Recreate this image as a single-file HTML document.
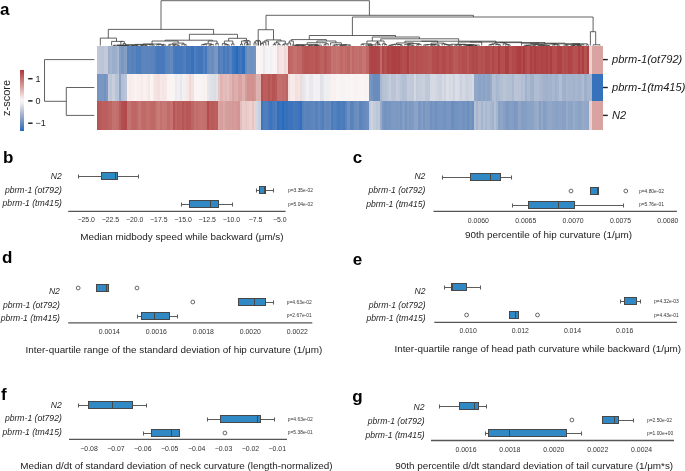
<!DOCTYPE html>
<html><head><meta charset="utf-8"><style>
html,body{margin:0;padding:0;background:#fff;width:685px;height:471px;overflow:hidden}
svg{display:block;will-change:transform}
text{font-family:"Liberation Sans",sans-serif}
</style></head><body>
<svg width="685" height="471" viewBox="0 0 685 471">
<rect width="685" height="471" fill="#fff"/>
<g shape-rendering="crispEdges"><rect x="97.20" y="45.6" width="2.46" height="28.10" fill="#c0c9d9"/><rect x="97.20" y="73.5" width="2.46" height="28.10" fill="#7393c0"/><rect x="97.20" y="101.4" width="2.46" height="28.10" fill="#b65453"/><rect x="99.36" y="45.6" width="2.46" height="28.10" fill="#bbc5d7"/><rect x="99.36" y="73.5" width="2.46" height="28.10" fill="#7997c1"/><rect x="99.36" y="101.4" width="2.46" height="28.10" fill="#b95a59"/><rect x="101.52" y="45.6" width="2.46" height="28.10" fill="#bac4d6"/><rect x="101.52" y="73.5" width="2.46" height="28.10" fill="#7997c1"/><rect x="101.52" y="101.4" width="2.46" height="28.10" fill="#bc605e"/><rect x="103.68" y="45.6" width="2.46" height="28.10" fill="#c2cada"/><rect x="103.68" y="73.5" width="2.46" height="28.10" fill="#7192c0"/><rect x="103.68" y="101.4" width="2.46" height="28.10" fill="#bb5e5d"/><rect x="105.84" y="45.6" width="2.46" height="28.10" fill="#c2cada"/><rect x="105.84" y="73.5" width="2.46" height="28.10" fill="#809bc3"/><rect x="105.84" y="101.4" width="2.46" height="28.10" fill="#bb5e5d"/><rect x="108.00" y="45.6" width="2.50" height="28.10" fill="#9dafcb"/><rect x="108.00" y="73.5" width="2.50" height="28.10" fill="#c2cada"/><rect x="108.00" y="101.4" width="2.50" height="28.10" fill="#be6664"/><rect x="110.20" y="45.6" width="2.50" height="28.10" fill="#a5b5ce"/><rect x="110.20" y="73.5" width="2.50" height="28.10" fill="#bdc6d7"/><rect x="110.20" y="101.4" width="2.50" height="28.10" fill="#be6463"/><rect x="112.40" y="45.6" width="2.50" height="28.10" fill="#9aadca"/><rect x="112.40" y="73.5" width="2.50" height="28.10" fill="#c7cedc"/><rect x="112.40" y="101.4" width="2.50" height="28.10" fill="#c3726f"/><rect x="114.60" y="45.6" width="2.50" height="28.10" fill="#9baecb"/><rect x="114.60" y="73.5" width="2.50" height="28.10" fill="#b8c3d5"/><rect x="114.60" y="101.4" width="2.50" height="28.10" fill="#c3726f"/><rect x="116.80" y="45.6" width="2.50" height="28.10" fill="#aab8d0"/><rect x="116.80" y="73.5" width="2.50" height="28.10" fill="#b8c3d5"/><rect x="116.80" y="101.4" width="2.50" height="28.10" fill="#c16c6a"/><rect x="119.00" y="45.6" width="2.30" height="28.10" fill="#859ec4"/><rect x="119.00" y="73.5" width="2.30" height="28.10" fill="#8ba3c6"/><rect x="119.00" y="101.4" width="2.30" height="28.10" fill="#ba5d5c"/><rect x="121.00" y="45.6" width="3.10" height="28.10" fill="#7997c1"/><rect x="121.00" y="73.5" width="3.10" height="28.10" fill="#b2bed3"/><rect x="121.00" y="101.4" width="3.10" height="28.10" fill="#b34d4e"/><rect x="123.80" y="45.6" width="3.10" height="28.10" fill="#859ec4"/><rect x="123.80" y="73.5" width="3.10" height="28.10" fill="#bac4d6"/><rect x="123.80" y="101.4" width="3.10" height="28.10" fill="#b24a4b"/><rect x="126.60" y="45.6" width="2.67" height="28.10" fill="#5983bd"/><rect x="126.60" y="73.5" width="2.67" height="28.10" fill="#f9efee"/><rect x="126.60" y="101.4" width="2.67" height="28.10" fill="#c3726f"/><rect x="128.97" y="45.6" width="2.67" height="28.10" fill="#5c85bd"/><rect x="128.97" y="73.5" width="2.67" height="28.10" fill="#f7ebea"/><rect x="128.97" y="101.4" width="2.67" height="28.10" fill="#c47371"/><rect x="131.33" y="45.6" width="2.67" height="28.10" fill="#5782bc"/><rect x="131.33" y="73.5" width="2.67" height="28.10" fill="#f9eeed"/><rect x="131.33" y="101.4" width="2.67" height="28.10" fill="#bf6765"/><rect x="133.70" y="45.6" width="2.67" height="28.10" fill="#5b84bd"/><rect x="133.70" y="73.5" width="2.67" height="28.10" fill="#faf3f2"/><rect x="133.70" y="101.4" width="2.67" height="28.10" fill="#be6463"/><rect x="136.07" y="45.6" width="2.67" height="28.10" fill="#4e7dbc"/><rect x="136.07" y="73.5" width="2.67" height="28.10" fill="#faf0ef"/><rect x="136.07" y="101.4" width="2.67" height="28.10" fill="#c06967"/><rect x="138.43" y="45.6" width="2.67" height="28.10" fill="#4e7dbc"/><rect x="138.43" y="73.5" width="2.67" height="28.10" fill="#f9efee"/><rect x="138.43" y="101.4" width="2.67" height="28.10" fill="#c57674"/><rect x="140.80" y="45.6" width="2.67" height="28.10" fill="#5b84bd"/><rect x="140.80" y="73.5" width="2.67" height="28.10" fill="#f7eae8"/><rect x="140.80" y="101.4" width="2.67" height="28.10" fill="#c16c6a"/><rect x="143.17" y="45.6" width="2.67" height="28.10" fill="#5e86bd"/><rect x="143.17" y="73.5" width="2.67" height="28.10" fill="#faf2f1"/><rect x="143.17" y="101.4" width="2.67" height="28.10" fill="#c06a68"/><rect x="145.53" y="45.6" width="2.67" height="28.10" fill="#5983bd"/><rect x="145.53" y="73.5" width="2.67" height="28.10" fill="#f9eeed"/><rect x="145.53" y="101.4" width="2.67" height="28.10" fill="#c26f6d"/><rect x="147.90" y="45.6" width="2.67" height="28.10" fill="#5e86bd"/><rect x="147.90" y="73.5" width="2.67" height="28.10" fill="#f5e7e5"/><rect x="147.90" y="101.4" width="2.67" height="28.10" fill="#c26f6d"/><rect x="150.27" y="45.6" width="2.67" height="28.10" fill="#5b84bd"/><rect x="150.27" y="73.5" width="2.67" height="28.10" fill="#faf4f3"/><rect x="150.27" y="101.4" width="2.67" height="28.10" fill="#c06a68"/><rect x="152.63" y="45.6" width="2.67" height="28.10" fill="#5983bd"/><rect x="152.63" y="73.5" width="2.67" height="28.10" fill="#f5e7e5"/><rect x="152.63" y="101.4" width="2.67" height="28.10" fill="#bf6765"/><rect x="155.00" y="45.6" width="2.70" height="28.10" fill="#4c7cbc"/><rect x="155.00" y="73.5" width="2.70" height="28.10" fill="#f3e2e0"/><rect x="155.00" y="101.4" width="2.70" height="28.10" fill="#c3726f"/><rect x="157.40" y="45.6" width="2.70" height="28.10" fill="#4678bc"/><rect x="157.40" y="73.5" width="2.70" height="28.10" fill="#f2e0df"/><rect x="157.40" y="101.4" width="2.70" height="28.10" fill="#c87c7a"/><rect x="159.80" y="45.6" width="2.70" height="28.10" fill="#4879bc"/><rect x="159.80" y="73.5" width="2.70" height="28.10" fill="#f6e8e7"/><rect x="159.80" y="101.4" width="2.70" height="28.10" fill="#c3706e"/><rect x="162.20" y="45.6" width="2.70" height="28.10" fill="#4879bc"/><rect x="162.20" y="73.5" width="2.70" height="28.10" fill="#f5e5e4"/><rect x="162.20" y="101.4" width="2.70" height="28.10" fill="#c67875"/><rect x="164.60" y="45.6" width="2.70" height="28.10" fill="#5b84bd"/><rect x="164.60" y="73.5" width="2.70" height="28.10" fill="#f6e8e7"/><rect x="164.60" y="101.4" width="2.70" height="28.10" fill="#c57674"/><rect x="167.00" y="45.6" width="3.10" height="28.10" fill="#5c85bd"/><rect x="167.00" y="73.5" width="3.10" height="28.10" fill="#faf3f2"/><rect x="167.00" y="101.4" width="3.10" height="28.10" fill="#c16c6a"/><rect x="169.80" y="45.6" width="3.10" height="28.10" fill="#6489be"/><rect x="169.80" y="73.5" width="3.10" height="28.10" fill="#f9f5f5"/><rect x="169.80" y="101.4" width="3.10" height="28.10" fill="#c47371"/><rect x="172.60" y="45.6" width="2.60" height="28.10" fill="#4a7bbc"/><rect x="172.60" y="73.5" width="2.60" height="28.10" fill="#f7f4f4"/><rect x="172.60" y="101.4" width="2.60" height="28.10" fill="#b75555"/><rect x="174.90" y="45.6" width="2.60" height="28.10" fill="#4477bc"/><rect x="174.90" y="73.5" width="2.60" height="28.10" fill="#ebeaee"/><rect x="174.90" y="101.4" width="2.60" height="28.10" fill="#be6463"/><rect x="177.20" y="45.6" width="2.60" height="28.10" fill="#4678bc"/><rect x="177.20" y="73.5" width="2.60" height="28.10" fill="#f1eff2"/><rect x="177.20" y="101.4" width="2.60" height="28.10" fill="#ba5d5c"/><rect x="179.50" y="45.6" width="2.60" height="28.10" fill="#4678bc"/><rect x="179.50" y="73.5" width="2.60" height="28.10" fill="#e7e7ec"/><rect x="179.50" y="101.4" width="2.60" height="28.10" fill="#bc605e"/><rect x="181.80" y="45.6" width="2.60" height="28.10" fill="#4a7bbc"/><rect x="181.80" y="73.5" width="2.60" height="28.10" fill="#f2f0f2"/><rect x="181.80" y="101.4" width="2.60" height="28.10" fill="#b75555"/><rect x="184.10" y="45.6" width="2.60" height="28.10" fill="#517fbc"/><rect x="184.10" y="73.5" width="2.60" height="28.10" fill="#f1eff2"/><rect x="184.10" y="101.4" width="2.60" height="28.10" fill="#ba5d5c"/><rect x="186.40" y="45.6" width="2.77" height="28.10" fill="#4276bc"/><rect x="186.40" y="73.5" width="2.77" height="28.10" fill="#f6e8e7"/><rect x="186.40" y="101.4" width="2.77" height="28.10" fill="#b75756"/><rect x="188.87" y="45.6" width="2.77" height="28.10" fill="#4477bc"/><rect x="188.87" y="73.5" width="2.77" height="28.10" fill="#efd8d6"/><rect x="188.87" y="101.4" width="2.77" height="28.10" fill="#b85857"/><rect x="191.33" y="45.6" width="2.77" height="28.10" fill="#3972bc"/><rect x="191.33" y="73.5" width="2.77" height="28.10" fill="#f3e2e0"/><rect x="191.33" y="101.4" width="2.77" height="28.10" fill="#be6664"/><rect x="193.80" y="45.6" width="2.50" height="28.10" fill="#507ebc"/><rect x="193.80" y="73.5" width="2.50" height="28.10" fill="#faf5f5"/><rect x="193.80" y="101.4" width="2.50" height="28.10" fill="#c3726f"/><rect x="196.00" y="45.6" width="2.50" height="28.10" fill="#4678bc"/><rect x="196.00" y="73.5" width="2.50" height="28.10" fill="#faf5f4"/><rect x="196.00" y="101.4" width="2.50" height="28.10" fill="#c16d6b"/><rect x="198.20" y="45.6" width="2.50" height="28.10" fill="#4276bc"/><rect x="198.20" y="73.5" width="2.50" height="28.10" fill="#faf5f5"/><rect x="198.20" y="101.4" width="2.50" height="28.10" fill="#c3706e"/><rect x="200.40" y="45.6" width="2.50" height="28.10" fill="#4276bc"/><rect x="200.40" y="73.5" width="2.50" height="28.10" fill="#faf3f3"/><rect x="200.40" y="101.4" width="2.50" height="28.10" fill="#c47371"/><rect x="202.60" y="45.6" width="2.50" height="28.10" fill="#5581bc"/><rect x="202.60" y="73.5" width="2.50" height="28.10" fill="#faf0ef"/><rect x="202.60" y="101.4" width="2.50" height="28.10" fill="#c3706e"/><rect x="204.80" y="45.6" width="2.50" height="28.10" fill="#4678bc"/><rect x="204.80" y="73.5" width="2.50" height="28.10" fill="#faf3f3"/><rect x="204.80" y="101.4" width="2.50" height="28.10" fill="#c16d6b"/><rect x="207.00" y="45.6" width="2.50" height="28.10" fill="#698cbe"/><rect x="207.00" y="73.5" width="2.50" height="28.10" fill="#e7e7ec"/><rect x="207.00" y="101.4" width="2.50" height="28.10" fill="#b34d4e"/><rect x="209.20" y="45.6" width="2.50" height="28.10" fill="#6f91bf"/><rect x="209.20" y="73.5" width="2.50" height="28.10" fill="#e1e2e9"/><rect x="209.20" y="101.4" width="2.50" height="28.10" fill="#bb5e5d"/><rect x="211.40" y="45.6" width="2.50" height="28.10" fill="#698cbe"/><rect x="211.40" y="73.5" width="2.50" height="28.10" fill="#dde0e7"/><rect x="211.40" y="101.4" width="2.50" height="28.10" fill="#b95b5a"/><rect x="213.60" y="45.6" width="2.50" height="28.10" fill="#7896c1"/><rect x="213.60" y="73.5" width="2.50" height="28.10" fill="#dadde5"/><rect x="213.60" y="101.4" width="2.50" height="28.10" fill="#bc605e"/><rect x="215.80" y="45.6" width="2.50" height="28.10" fill="#7b98c2"/><rect x="215.80" y="73.5" width="2.50" height="28.10" fill="#e1e2e9"/><rect x="215.80" y="101.4" width="2.50" height="28.10" fill="#bb5e5d"/><rect x="218.00" y="45.6" width="2.55" height="28.10" fill="#4e7dbc"/><rect x="218.00" y="73.5" width="2.55" height="28.10" fill="#e6c5c3"/><rect x="218.00" y="101.4" width="2.55" height="28.10" fill="#d8a3a0"/><rect x="220.25" y="45.6" width="2.55" height="28.10" fill="#5983bd"/><rect x="220.25" y="73.5" width="2.55" height="28.10" fill="#dfb4b2"/><rect x="220.25" y="101.4" width="2.55" height="28.10" fill="#d7a09d"/><rect x="222.50" y="45.6" width="2.55" height="28.10" fill="#4678bc"/><rect x="222.50" y="73.5" width="2.55" height="28.10" fill="#e3bdbb"/><rect x="222.50" y="101.4" width="2.55" height="28.10" fill="#daa9a7"/><rect x="224.75" y="45.6" width="2.55" height="28.10" fill="#5380bc"/><rect x="224.75" y="73.5" width="2.55" height="28.10" fill="#e1bab8"/><rect x="224.75" y="101.4" width="2.55" height="28.10" fill="#d69f9c"/><rect x="227.00" y="45.6" width="2.55" height="28.10" fill="#4879bc"/><rect x="227.00" y="73.5" width="2.55" height="28.10" fill="#e4c0be"/><rect x="227.00" y="101.4" width="2.55" height="28.10" fill="#d59d9a"/><rect x="229.25" y="45.6" width="2.55" height="28.10" fill="#5983bd"/><rect x="229.25" y="73.5" width="2.55" height="28.10" fill="#dfb4b2"/><rect x="229.25" y="101.4" width="2.55" height="28.10" fill="#d59d9a"/><rect x="231.50" y="45.6" width="2.42" height="28.10" fill="#3f75bc"/><rect x="231.50" y="73.5" width="2.42" height="28.10" fill="#d9a6a4"/><rect x="231.50" y="101.4" width="2.42" height="28.10" fill="#d49896"/><rect x="233.62" y="45.6" width="2.42" height="28.10" fill="#3671bc"/><rect x="233.62" y="73.5" width="2.42" height="28.10" fill="#dcaeab"/><rect x="233.62" y="101.4" width="2.42" height="28.10" fill="#d59d9a"/><rect x="235.75" y="45.6" width="2.42" height="28.10" fill="#266abd"/><rect x="235.75" y="73.5" width="2.42" height="28.10" fill="#ddafad"/><rect x="235.75" y="101.4" width="2.42" height="28.10" fill="#d49896"/><rect x="237.88" y="45.6" width="2.42" height="28.10" fill="#3d74bc"/><rect x="237.88" y="73.5" width="2.42" height="28.10" fill="#d7a29f"/><rect x="237.88" y="101.4" width="2.42" height="28.10" fill="#d29593"/><rect x="240.00" y="45.6" width="2.70" height="28.10" fill="#4477bc"/><rect x="240.00" y="73.5" width="2.70" height="28.10" fill="#d7a29f"/><rect x="240.00" y="101.4" width="2.70" height="28.10" fill="#e3bdbb"/><rect x="242.40" y="45.6" width="2.70" height="28.10" fill="#316fbc"/><rect x="242.40" y="73.5" width="2.70" height="28.10" fill="#deb1ae"/><rect x="242.40" y="101.4" width="2.70" height="28.10" fill="#eacdcb"/><rect x="244.80" y="45.6" width="2.58" height="28.10" fill="#658abe"/><rect x="244.80" y="73.5" width="2.58" height="28.10" fill="#d59d9a"/><rect x="244.80" y="101.4" width="2.58" height="28.10" fill="#e7c8c6"/><rect x="247.08" y="45.6" width="2.58" height="28.10" fill="#7594c0"/><rect x="247.08" y="73.5" width="2.58" height="28.10" fill="#d1918e"/><rect x="247.08" y="101.4" width="2.58" height="28.10" fill="#e9cbc9"/><rect x="249.36" y="45.6" width="2.58" height="28.10" fill="#6f91bf"/><rect x="249.36" y="73.5" width="2.58" height="28.10" fill="#d19290"/><rect x="249.36" y="101.4" width="2.58" height="28.10" fill="#ecd3d2"/><rect x="251.64" y="45.6" width="2.58" height="28.10" fill="#6f91bf"/><rect x="251.64" y="73.5" width="2.58" height="28.10" fill="#d08f8d"/><rect x="251.64" y="101.4" width="2.58" height="28.10" fill="#e6c5c3"/><rect x="253.92" y="45.6" width="2.58" height="28.10" fill="#7393c0"/><rect x="253.92" y="73.5" width="2.58" height="28.10" fill="#d49896"/><rect x="253.92" y="101.4" width="2.58" height="28.10" fill="#ecd2d0"/><rect x="256.20" y="45.6" width="2.50" height="28.10" fill="#faf5f5"/><rect x="256.20" y="73.5" width="2.50" height="28.10" fill="#deb2b0"/><rect x="256.20" y="101.4" width="2.50" height="28.10" fill="#d2d7e1"/><rect x="258.40" y="45.6" width="2.50" height="28.10" fill="#faf5f4"/><rect x="258.40" y="73.5" width="2.50" height="28.10" fill="#deb1ae"/><rect x="258.40" y="101.4" width="2.50" height="28.10" fill="#cad0dd"/><rect x="260.60" y="45.6" width="2.67" height="28.10" fill="#f8f4f5"/><rect x="260.60" y="73.5" width="2.67" height="28.10" fill="#b55252"/><rect x="260.60" y="101.4" width="2.67" height="28.10" fill="#3f75bc"/><rect x="262.97" y="45.6" width="2.67" height="28.10" fill="#e9e9ed"/><rect x="262.97" y="73.5" width="2.67" height="28.10" fill="#ba5d5c"/><rect x="262.97" y="101.4" width="2.67" height="28.10" fill="#517fbc"/><rect x="265.34" y="45.6" width="2.67" height="28.10" fill="#f6f3f4"/><rect x="265.34" y="73.5" width="2.67" height="28.10" fill="#bb5e5d"/><rect x="265.34" y="101.4" width="2.67" height="28.10" fill="#507ebc"/><rect x="267.71" y="45.6" width="2.67" height="28.10" fill="#f8f4f5"/><rect x="267.71" y="73.5" width="2.67" height="28.10" fill="#b65453"/><rect x="267.71" y="101.4" width="2.67" height="28.10" fill="#4477bc"/><rect x="270.09" y="45.6" width="2.67" height="28.10" fill="#f2f0f2"/><rect x="270.09" y="73.5" width="2.67" height="28.10" fill="#bb5e5d"/><rect x="270.09" y="101.4" width="2.67" height="28.10" fill="#3b73bc"/><rect x="272.46" y="45.6" width="2.67" height="28.10" fill="#f8f4f5"/><rect x="272.46" y="73.5" width="2.67" height="28.10" fill="#b65453"/><rect x="272.46" y="101.4" width="2.67" height="28.10" fill="#4879bc"/><rect x="274.83" y="45.6" width="2.67" height="28.10" fill="#f8f4f5"/><rect x="274.83" y="73.5" width="2.67" height="28.10" fill="#b85857"/><rect x="274.83" y="101.4" width="2.67" height="28.10" fill="#517fbc"/><rect x="277.20" y="45.6" width="2.48" height="28.10" fill="#efd8d6"/><rect x="277.20" y="73.5" width="2.48" height="28.10" fill="#c26f6d"/><rect x="277.20" y="101.4" width="2.48" height="28.10" fill="#2f6ebc"/><rect x="279.38" y="45.6" width="2.48" height="28.10" fill="#f4e3e2"/><rect x="279.38" y="73.5" width="2.48" height="28.10" fill="#c26f6d"/><rect x="279.38" y="101.4" width="2.48" height="28.10" fill="#3972bc"/><rect x="281.56" y="45.6" width="2.48" height="28.10" fill="#f5e5e4"/><rect x="281.56" y="73.5" width="2.48" height="28.10" fill="#c16c6a"/><rect x="281.56" y="101.4" width="2.48" height="28.10" fill="#296cbc"/><rect x="283.74" y="45.6" width="2.48" height="28.10" fill="#eed7d5"/><rect x="283.74" y="73.5" width="2.48" height="28.10" fill="#c16d6b"/><rect x="283.74" y="101.4" width="2.48" height="28.10" fill="#3671bc"/><rect x="285.92" y="45.6" width="2.48" height="28.10" fill="#f2dfdd"/><rect x="285.92" y="73.5" width="2.48" height="28.10" fill="#bd6361"/><rect x="285.92" y="101.4" width="2.48" height="28.10" fill="#3470bc"/><rect x="288.10" y="45.6" width="2.60" height="28.10" fill="#bc6160"/><rect x="288.10" y="73.5" width="2.60" height="28.10" fill="#f2e0df"/><rect x="288.10" y="101.4" width="2.60" height="28.10" fill="#3d74bc"/><rect x="290.40" y="45.6" width="2.60" height="28.10" fill="#c06967"/><rect x="290.40" y="73.5" width="2.60" height="28.10" fill="#f7eae8"/><rect x="290.40" y="101.4" width="2.60" height="28.10" fill="#3b73bc"/><rect x="292.70" y="45.6" width="2.60" height="28.10" fill="#c3706e"/><rect x="292.70" y="73.5" width="2.60" height="28.10" fill="#f7eae8"/><rect x="292.70" y="101.4" width="2.60" height="28.10" fill="#4678bc"/><rect x="295.00" y="45.6" width="2.60" height="28.10" fill="#c3706e"/><rect x="295.00" y="73.5" width="2.60" height="28.10" fill="#f2e0df"/><rect x="295.00" y="101.4" width="2.60" height="28.10" fill="#4477bc"/><rect x="297.30" y="45.6" width="2.60" height="28.10" fill="#c06967"/><rect x="297.30" y="73.5" width="2.60" height="28.10" fill="#f4e3e2"/><rect x="297.30" y="101.4" width="2.60" height="28.10" fill="#3d74bc"/><rect x="299.60" y="45.6" width="2.60" height="28.10" fill="#c06967"/><rect x="299.60" y="73.5" width="2.60" height="28.10" fill="#efdad8"/><rect x="299.60" y="101.4" width="2.60" height="28.10" fill="#316fbc"/><rect x="301.90" y="45.6" width="2.54" height="28.10" fill="#b95a59"/><rect x="301.90" y="73.5" width="2.54" height="28.10" fill="#e4e5eb"/><rect x="301.90" y="101.4" width="2.54" height="28.10" fill="#5581bc"/><rect x="304.14" y="45.6" width="2.54" height="28.10" fill="#b75555"/><rect x="304.14" y="73.5" width="2.54" height="28.10" fill="#e9e9ed"/><rect x="304.14" y="101.4" width="2.54" height="28.10" fill="#5c85bd"/><rect x="306.38" y="45.6" width="2.54" height="28.10" fill="#b75555"/><rect x="306.38" y="73.5" width="2.54" height="28.10" fill="#f1eff2"/><rect x="306.38" y="101.4" width="2.54" height="28.10" fill="#5983bd"/><rect x="308.62" y="45.6" width="2.54" height="28.10" fill="#b85857"/><rect x="308.62" y="73.5" width="2.54" height="28.10" fill="#e9e9ed"/><rect x="308.62" y="101.4" width="2.54" height="28.10" fill="#5b84bd"/><rect x="310.85" y="45.6" width="2.54" height="28.10" fill="#b75756"/><rect x="310.85" y="73.5" width="2.54" height="28.10" fill="#e9e9ed"/><rect x="310.85" y="101.4" width="2.54" height="28.10" fill="#5c85bd"/><rect x="313.09" y="45.6" width="2.54" height="28.10" fill="#b95b5a"/><rect x="313.09" y="73.5" width="2.54" height="28.10" fill="#f2f0f2"/><rect x="313.09" y="101.4" width="2.54" height="28.10" fill="#6087bd"/><rect x="315.33" y="45.6" width="2.54" height="28.10" fill="#b65453"/><rect x="315.33" y="73.5" width="2.54" height="28.10" fill="#f2f0f2"/><rect x="315.33" y="101.4" width="2.54" height="28.10" fill="#5581bc"/><rect x="317.57" y="45.6" width="2.54" height="28.10" fill="#b95a59"/><rect x="317.57" y="73.5" width="2.54" height="28.10" fill="#f2f0f2"/><rect x="317.57" y="101.4" width="2.54" height="28.10" fill="#6288bd"/><rect x="319.81" y="45.6" width="2.54" height="28.10" fill="#bc6160"/><rect x="319.81" y="73.5" width="2.54" height="28.10" fill="#e1e2e9"/><rect x="319.81" y="101.4" width="2.54" height="28.10" fill="#5983bd"/><rect x="322.05" y="45.6" width="2.54" height="28.10" fill="#bd6361"/><rect x="322.05" y="73.5" width="2.54" height="28.10" fill="#e4e5eb"/><rect x="322.05" y="101.4" width="2.54" height="28.10" fill="#517fbc"/><rect x="324.28" y="45.6" width="2.54" height="28.10" fill="#b75756"/><rect x="324.28" y="73.5" width="2.54" height="28.10" fill="#efeef1"/><rect x="324.28" y="101.4" width="2.54" height="28.10" fill="#6489be"/><rect x="326.52" y="45.6" width="2.54" height="28.10" fill="#bc6160"/><rect x="326.52" y="73.5" width="2.54" height="28.10" fill="#eeedf0"/><rect x="326.52" y="101.4" width="2.54" height="28.10" fill="#5e86bd"/><rect x="328.76" y="45.6" width="2.54" height="28.10" fill="#bc6160"/><rect x="328.76" y="73.5" width="2.54" height="28.10" fill="#f1eff2"/><rect x="328.76" y="101.4" width="2.54" height="28.10" fill="#658abe"/><rect x="331.00" y="45.6" width="2.63" height="28.10" fill="#c47371"/><rect x="331.00" y="73.5" width="2.63" height="28.10" fill="#faf2f1"/><rect x="331.00" y="101.4" width="2.63" height="28.10" fill="#4a7bbc"/><rect x="333.33" y="45.6" width="2.63" height="28.10" fill="#c26f6d"/><rect x="333.33" y="73.5" width="2.63" height="28.10" fill="#faf0ef"/><rect x="333.33" y="101.4" width="2.63" height="28.10" fill="#5581bc"/><rect x="335.67" y="45.6" width="2.63" height="28.10" fill="#c57572"/><rect x="335.67" y="73.5" width="2.63" height="28.10" fill="#faf5f5"/><rect x="335.67" y="101.4" width="2.63" height="28.10" fill="#4e7dbc"/><rect x="338.00" y="45.6" width="2.63" height="28.10" fill="#c3706e"/><rect x="338.00" y="73.5" width="2.63" height="28.10" fill="#f9f5f5"/><rect x="338.00" y="101.4" width="2.63" height="28.10" fill="#4879bc"/><rect x="340.33" y="45.6" width="2.63" height="28.10" fill="#c06967"/><rect x="340.33" y="73.5" width="2.63" height="28.10" fill="#f6f3f4"/><rect x="340.33" y="101.4" width="2.63" height="28.10" fill="#4e7dbc"/><rect x="342.67" y="45.6" width="2.63" height="28.10" fill="#c26f6d"/><rect x="342.67" y="73.5" width="2.63" height="28.10" fill="#f6f3f4"/><rect x="342.67" y="101.4" width="2.63" height="28.10" fill="#4879bc"/><rect x="345.00" y="45.6" width="2.67" height="28.10" fill="#c16c6a"/><rect x="345.00" y="73.5" width="2.67" height="28.10" fill="#faf5f4"/><rect x="345.00" y="101.4" width="2.67" height="28.10" fill="#5b84bd"/><rect x="347.37" y="45.6" width="2.67" height="28.10" fill="#be6463"/><rect x="347.37" y="73.5" width="2.67" height="28.10" fill="#faf3f3"/><rect x="347.37" y="101.4" width="2.67" height="28.10" fill="#6e90bf"/><rect x="349.74" y="45.6" width="2.67" height="28.10" fill="#c57572"/><rect x="349.74" y="73.5" width="2.67" height="28.10" fill="#f9f5f5"/><rect x="349.74" y="101.4" width="2.67" height="28.10" fill="#5983bd"/><rect x="352.11" y="45.6" width="2.67" height="28.10" fill="#c06967"/><rect x="352.11" y="73.5" width="2.67" height="28.10" fill="#f9f5f5"/><rect x="352.11" y="101.4" width="2.67" height="28.10" fill="#5b84bd"/><rect x="354.48" y="45.6" width="2.67" height="28.10" fill="#c26f6d"/><rect x="354.48" y="73.5" width="2.67" height="28.10" fill="#faf2f1"/><rect x="354.48" y="101.4" width="2.67" height="28.10" fill="#6a8dbf"/><rect x="356.85" y="45.6" width="2.67" height="28.10" fill="#c3726f"/><rect x="356.85" y="73.5" width="2.67" height="28.10" fill="#f8f4f5"/><rect x="356.85" y="101.4" width="2.67" height="28.10" fill="#6e90bf"/><rect x="359.22" y="45.6" width="2.67" height="28.10" fill="#c16c6a"/><rect x="359.22" y="73.5" width="2.67" height="28.10" fill="#faf4f3"/><rect x="359.22" y="101.4" width="2.67" height="28.10" fill="#5b84bd"/><rect x="361.59" y="45.6" width="2.67" height="28.10" fill="#c57674"/><rect x="361.59" y="73.5" width="2.67" height="28.10" fill="#faf4f3"/><rect x="361.59" y="101.4" width="2.67" height="28.10" fill="#6288bd"/><rect x="363.96" y="45.6" width="2.67" height="28.10" fill="#c57674"/><rect x="363.96" y="73.5" width="2.67" height="28.10" fill="#faf2f1"/><rect x="363.96" y="101.4" width="2.67" height="28.10" fill="#678bbe"/><rect x="366.33" y="45.6" width="2.67" height="28.10" fill="#bf6765"/><rect x="366.33" y="73.5" width="2.67" height="28.10" fill="#f7f4f4"/><rect x="366.33" y="101.4" width="2.67" height="28.10" fill="#6c8ebf"/><rect x="368.70" y="45.6" width="2.60" height="28.10" fill="#b04748"/><rect x="368.70" y="73.5" width="2.60" height="28.10" fill="#7997c1"/><rect x="368.70" y="101.4" width="2.60" height="28.10" fill="#c3cbda"/><rect x="371.00" y="45.6" width="2.60" height="28.10" fill="#ae4244"/><rect x="371.00" y="73.5" width="2.60" height="28.10" fill="#7393c0"/><rect x="371.00" y="101.4" width="2.60" height="28.10" fill="#cdd3df"/><rect x="373.30" y="45.6" width="2.60" height="28.10" fill="#af4446"/><rect x="373.30" y="73.5" width="2.60" height="28.10" fill="#698cbe"/><rect x="373.30" y="101.4" width="2.60" height="28.10" fill="#c3cbda"/><rect x="375.60" y="45.6" width="2.60" height="28.10" fill="#af4446"/><rect x="375.60" y="73.5" width="2.60" height="28.10" fill="#698cbe"/><rect x="375.60" y="101.4" width="2.60" height="28.10" fill="#bdc6d7"/><rect x="377.90" y="45.6" width="2.60" height="28.10" fill="#b04748"/><rect x="377.90" y="73.5" width="2.60" height="28.10" fill="#6a8dbf"/><rect x="377.90" y="101.4" width="2.60" height="28.10" fill="#c0c9d9"/><rect x="380.20" y="45.6" width="2.10" height="28.10" fill="#c06a68"/><rect x="380.20" y="73.5" width="2.10" height="28.10" fill="#a8b7cf"/><rect x="380.20" y="101.4" width="2.10" height="28.10" fill="#97abc9"/><rect x="382.00" y="45.6" width="2.55" height="28.10" fill="#b04748"/><rect x="382.00" y="73.5" width="2.55" height="28.10" fill="#b5c0d4"/><rect x="382.00" y="101.4" width="2.55" height="28.10" fill="#7b98c2"/><rect x="384.25" y="45.6" width="2.55" height="28.10" fill="#b55151"/><rect x="384.25" y="73.5" width="2.55" height="28.10" fill="#b7c2d5"/><rect x="384.25" y="101.4" width="2.55" height="28.10" fill="#7393c0"/><rect x="386.50" y="45.6" width="2.55" height="28.10" fill="#ae4244"/><rect x="386.50" y="73.5" width="2.55" height="28.10" fill="#bdc6d7"/><rect x="386.50" y="101.4" width="2.55" height="28.10" fill="#7896c1"/><rect x="388.75" y="45.6" width="2.55" height="28.10" fill="#b04748"/><rect x="388.75" y="73.5" width="2.55" height="28.10" fill="#c5cddb"/><rect x="388.75" y="101.4" width="2.55" height="28.10" fill="#7695c1"/><rect x="391.00" y="45.6" width="2.55" height="28.10" fill="#ad4143"/><rect x="391.00" y="73.5" width="2.55" height="28.10" fill="#bac4d6"/><rect x="391.00" y="101.4" width="2.55" height="28.10" fill="#7e9ac2"/><rect x="393.25" y="45.6" width="2.55" height="28.10" fill="#ac3f42"/><rect x="393.25" y="73.5" width="2.55" height="28.10" fill="#bac4d6"/><rect x="393.25" y="101.4" width="2.55" height="28.10" fill="#7e9ac2"/><rect x="395.50" y="45.6" width="2.55" height="28.10" fill="#ae4244"/><rect x="395.50" y="73.5" width="2.55" height="28.10" fill="#c5cddb"/><rect x="395.50" y="101.4" width="2.55" height="28.10" fill="#7b98c2"/><rect x="397.75" y="45.6" width="2.55" height="28.10" fill="#ac3f42"/><rect x="397.75" y="73.5" width="2.55" height="28.10" fill="#c0c9d9"/><rect x="397.75" y="101.4" width="2.55" height="28.10" fill="#809bc3"/><rect x="400.00" y="45.6" width="2.55" height="28.10" fill="#b1494a"/><rect x="400.00" y="73.5" width="2.55" height="28.10" fill="#b8c3d5"/><rect x="400.00" y="101.4" width="2.55" height="28.10" fill="#7594c0"/><rect x="402.25" y="45.6" width="2.55" height="28.10" fill="#b34d4e"/><rect x="402.25" y="73.5" width="2.55" height="28.10" fill="#b2bed3"/><rect x="402.25" y="101.4" width="2.55" height="28.10" fill="#839dc4"/><rect x="404.50" y="45.6" width="2.55" height="28.10" fill="#b24c4c"/><rect x="404.50" y="73.5" width="2.55" height="28.10" fill="#b5c0d4"/><rect x="404.50" y="101.4" width="2.55" height="28.10" fill="#7594c0"/><rect x="406.75" y="45.6" width="2.55" height="28.10" fill="#ac3f42"/><rect x="406.75" y="73.5" width="2.55" height="28.10" fill="#c3cbda"/><rect x="406.75" y="101.4" width="2.55" height="28.10" fill="#829cc3"/><rect x="409.00" y="45.6" width="2.66" height="28.10" fill="#b65453"/><rect x="409.00" y="73.5" width="2.66" height="28.10" fill="#c2cada"/><rect x="409.00" y="101.4" width="2.66" height="28.10" fill="#7d99c2"/><rect x="411.36" y="45.6" width="2.66" height="28.10" fill="#b44f4f"/><rect x="411.36" y="73.5" width="2.66" height="28.10" fill="#c0c9d9"/><rect x="411.36" y="101.4" width="2.66" height="28.10" fill="#809bc3"/><rect x="413.71" y="45.6" width="2.66" height="28.10" fill="#b65453"/><rect x="413.71" y="73.5" width="2.66" height="28.10" fill="#d2d7e1"/><rect x="413.71" y="101.4" width="2.66" height="28.10" fill="#8ba3c6"/><rect x="416.07" y="45.6" width="2.66" height="28.10" fill="#b34d4e"/><rect x="416.07" y="73.5" width="2.66" height="28.10" fill="#c2cada"/><rect x="416.07" y="101.4" width="2.66" height="28.10" fill="#8ba3c6"/><rect x="418.42" y="45.6" width="2.66" height="28.10" fill="#b55252"/><rect x="418.42" y="73.5" width="2.66" height="28.10" fill="#c5cddb"/><rect x="418.42" y="101.4" width="2.66" height="28.10" fill="#7896c1"/><rect x="420.78" y="45.6" width="2.66" height="28.10" fill="#b55151"/><rect x="420.78" y="73.5" width="2.66" height="28.10" fill="#c7cedc"/><rect x="420.78" y="101.4" width="2.66" height="28.10" fill="#829cc3"/><rect x="423.13" y="45.6" width="2.66" height="28.10" fill="#b75555"/><rect x="423.13" y="73.5" width="2.66" height="28.10" fill="#c8cfdd"/><rect x="423.13" y="101.4" width="2.66" height="28.10" fill="#7896c1"/><rect x="425.49" y="45.6" width="2.66" height="28.10" fill="#b65453"/><rect x="425.49" y="73.5" width="2.66" height="28.10" fill="#bfc8d8"/><rect x="425.49" y="101.4" width="2.66" height="28.10" fill="#809bc3"/><rect x="427.84" y="45.6" width="2.66" height="28.10" fill="#b85857"/><rect x="427.84" y="73.5" width="2.66" height="28.10" fill="#bfc8d8"/><rect x="427.84" y="101.4" width="2.66" height="28.10" fill="#7e9ac2"/><rect x="430.20" y="45.6" width="2.59" height="28.10" fill="#b85857"/><rect x="430.20" y="73.5" width="2.59" height="28.10" fill="#d5d9e3"/><rect x="430.20" y="101.4" width="2.59" height="28.10" fill="#7192c0"/><rect x="432.49" y="45.6" width="2.59" height="28.10" fill="#b34d4e"/><rect x="432.49" y="73.5" width="2.59" height="28.10" fill="#d7dae4"/><rect x="432.49" y="101.4" width="2.59" height="28.10" fill="#7695c1"/><rect x="434.79" y="45.6" width="2.59" height="28.10" fill="#b24c4c"/><rect x="434.79" y="73.5" width="2.59" height="28.10" fill="#d2d7e1"/><rect x="434.79" y="101.4" width="2.59" height="28.10" fill="#6e90bf"/><rect x="437.08" y="45.6" width="2.59" height="28.10" fill="#b1494a"/><rect x="437.08" y="73.5" width="2.59" height="28.10" fill="#cdd3df"/><rect x="437.08" y="101.4" width="2.59" height="28.10" fill="#7695c1"/><rect x="439.38" y="45.6" width="2.59" height="28.10" fill="#b55151"/><rect x="439.38" y="73.5" width="2.59" height="28.10" fill="#cbd1de"/><rect x="439.38" y="101.4" width="2.59" height="28.10" fill="#7896c1"/><rect x="441.67" y="45.6" width="2.59" height="28.10" fill="#b24a4b"/><rect x="441.67" y="73.5" width="2.59" height="28.10" fill="#d7dae4"/><rect x="441.67" y="101.4" width="2.59" height="28.10" fill="#7695c1"/><rect x="443.97" y="45.6" width="2.59" height="28.10" fill="#b24c4c"/><rect x="443.97" y="73.5" width="2.59" height="28.10" fill="#cdd3df"/><rect x="443.97" y="101.4" width="2.59" height="28.10" fill="#7192c0"/><rect x="446.26" y="45.6" width="2.59" height="28.10" fill="#b55252"/><rect x="446.26" y="73.5" width="2.59" height="28.10" fill="#dcdee6"/><rect x="446.26" y="101.4" width="2.59" height="28.10" fill="#7896c1"/><rect x="448.56" y="45.6" width="2.59" height="28.10" fill="#b24c4c"/><rect x="448.56" y="73.5" width="2.59" height="28.10" fill="#d5d9e3"/><rect x="448.56" y="101.4" width="2.59" height="28.10" fill="#7997c1"/><rect x="450.85" y="45.6" width="2.59" height="28.10" fill="#b44f4f"/><rect x="450.85" y="73.5" width="2.59" height="28.10" fill="#d9dce5"/><rect x="450.85" y="101.4" width="2.59" height="28.10" fill="#6a8dbf"/><rect x="453.15" y="45.6" width="2.59" height="28.10" fill="#b95b5a"/><rect x="453.15" y="73.5" width="2.59" height="28.10" fill="#cdd3df"/><rect x="453.15" y="101.4" width="2.59" height="28.10" fill="#6e90bf"/><rect x="455.44" y="45.6" width="2.59" height="28.10" fill="#b95a59"/><rect x="455.44" y="73.5" width="2.59" height="28.10" fill="#dcdee6"/><rect x="455.44" y="101.4" width="2.59" height="28.10" fill="#7393c0"/><rect x="457.74" y="45.6" width="2.59" height="28.10" fill="#b55151"/><rect x="457.74" y="73.5" width="2.59" height="28.10" fill="#d7dae4"/><rect x="457.74" y="101.4" width="2.59" height="28.10" fill="#7594c0"/><rect x="460.03" y="45.6" width="2.59" height="28.10" fill="#b65453"/><rect x="460.03" y="73.5" width="2.59" height="28.10" fill="#cad0dd"/><rect x="460.03" y="101.4" width="2.59" height="28.10" fill="#7896c1"/><rect x="462.33" y="45.6" width="2.59" height="28.10" fill="#b34d4e"/><rect x="462.33" y="73.5" width="2.59" height="28.10" fill="#d4d8e2"/><rect x="462.33" y="101.4" width="2.59" height="28.10" fill="#7192c0"/><rect x="464.62" y="45.6" width="2.59" height="28.10" fill="#b44f4f"/><rect x="464.62" y="73.5" width="2.59" height="28.10" fill="#cbd1de"/><rect x="464.62" y="101.4" width="2.59" height="28.10" fill="#7695c1"/><rect x="466.92" y="45.6" width="2.59" height="28.10" fill="#b85857"/><rect x="466.92" y="73.5" width="2.59" height="28.10" fill="#cbd1de"/><rect x="466.92" y="101.4" width="2.59" height="28.10" fill="#6c8ebf"/><rect x="469.21" y="45.6" width="2.59" height="28.10" fill="#b34d4e"/><rect x="469.21" y="73.5" width="2.59" height="28.10" fill="#cfd4e0"/><rect x="469.21" y="101.4" width="2.59" height="28.10" fill="#7695c1"/><rect x="471.51" y="45.6" width="2.59" height="28.10" fill="#b1494a"/><rect x="471.51" y="73.5" width="2.59" height="28.10" fill="#d4d8e2"/><rect x="471.51" y="101.4" width="2.59" height="28.10" fill="#6e90bf"/><rect x="473.80" y="45.6" width="2.55" height="28.10" fill="#b24c4c"/><rect x="473.80" y="73.5" width="2.55" height="28.10" fill="#92a7c8"/><rect x="473.80" y="101.4" width="2.55" height="28.10" fill="#b5c0d4"/><rect x="476.05" y="45.6" width="2.55" height="28.10" fill="#b1494a"/><rect x="476.05" y="73.5" width="2.55" height="28.10" fill="#92a7c8"/><rect x="476.05" y="101.4" width="2.55" height="28.10" fill="#a7b6ce"/><rect x="478.30" y="45.6" width="2.55" height="28.10" fill="#b55252"/><rect x="478.30" y="73.5" width="2.55" height="28.10" fill="#8aa2c5"/><rect x="478.30" y="101.4" width="2.55" height="28.10" fill="#b3bfd3"/><rect x="480.55" y="45.6" width="2.55" height="28.10" fill="#b44f4f"/><rect x="480.55" y="73.5" width="2.55" height="28.10" fill="#90a6c7"/><rect x="480.55" y="101.4" width="2.55" height="28.10" fill="#a5b5ce"/><rect x="482.80" y="45.6" width="2.55" height="28.10" fill="#b65453"/><rect x="482.80" y="73.5" width="2.55" height="28.10" fill="#8aa2c5"/><rect x="482.80" y="101.4" width="2.55" height="28.10" fill="#b3bfd3"/><rect x="485.05" y="45.6" width="2.55" height="28.10" fill="#b04748"/><rect x="485.05" y="73.5" width="2.55" height="28.10" fill="#92a7c8"/><rect x="485.05" y="101.4" width="2.55" height="28.10" fill="#abb9d0"/><rect x="487.30" y="45.6" width="2.55" height="28.10" fill="#b24a4b"/><rect x="487.30" y="73.5" width="2.55" height="28.10" fill="#8da4c6"/><rect x="487.30" y="101.4" width="2.55" height="28.10" fill="#afbcd1"/><rect x="489.55" y="45.6" width="2.55" height="28.10" fill="#b55252"/><rect x="489.55" y="73.5" width="2.55" height="28.10" fill="#97abc9"/><rect x="489.55" y="101.4" width="2.55" height="28.10" fill="#a8b7cf"/><rect x="491.80" y="45.6" width="2.37" height="28.10" fill="#af4647"/><rect x="491.80" y="73.5" width="2.37" height="28.10" fill="#b3bfd3"/><rect x="491.80" y="101.4" width="2.37" height="28.10" fill="#a2b2cd"/><rect x="493.87" y="45.6" width="2.37" height="28.10" fill="#b44f4f"/><rect x="493.87" y="73.5" width="2.37" height="28.10" fill="#b2bed3"/><rect x="493.87" y="101.4" width="2.37" height="28.10" fill="#b5c0d4"/><rect x="495.93" y="45.6" width="2.37" height="28.10" fill="#b55151"/><rect x="495.93" y="73.5" width="2.37" height="28.10" fill="#a7b6ce"/><rect x="495.93" y="101.4" width="2.37" height="28.10" fill="#a5b5ce"/><rect x="498.00" y="45.6" width="2.55" height="28.10" fill="#ac3e40"/><rect x="498.00" y="73.5" width="2.55" height="28.10" fill="#adbbd1"/><rect x="498.00" y="101.4" width="2.55" height="28.10" fill="#88a1c5"/><rect x="500.25" y="45.6" width="2.55" height="28.10" fill="#b34d4e"/><rect x="500.25" y="73.5" width="2.55" height="28.10" fill="#b3bfd3"/><rect x="500.25" y="101.4" width="2.55" height="28.10" fill="#8fa5c7"/><rect x="502.50" y="45.6" width="2.55" height="28.10" fill="#b34d4e"/><rect x="502.50" y="73.5" width="2.55" height="28.10" fill="#bac4d6"/><rect x="502.50" y="101.4" width="2.55" height="28.10" fill="#87a0c4"/><rect x="504.75" y="45.6" width="2.55" height="28.10" fill="#ac3f42"/><rect x="504.75" y="73.5" width="2.55" height="28.10" fill="#b7c2d5"/><rect x="504.75" y="101.4" width="2.55" height="28.10" fill="#809bc3"/><rect x="507.00" y="45.6" width="2.55" height="28.10" fill="#ac3f42"/><rect x="507.00" y="73.5" width="2.55" height="28.10" fill="#b3bfd3"/><rect x="507.00" y="101.4" width="2.55" height="28.10" fill="#7d99c2"/><rect x="509.25" y="45.6" width="2.55" height="28.10" fill="#b55151"/><rect x="509.25" y="73.5" width="2.55" height="28.10" fill="#b3bfd3"/><rect x="509.25" y="101.4" width="2.55" height="28.10" fill="#859ec4"/><rect x="511.50" y="45.6" width="2.55" height="28.10" fill="#b24a4b"/><rect x="511.50" y="73.5" width="2.55" height="28.10" fill="#abb9d0"/><rect x="511.50" y="101.4" width="2.55" height="28.10" fill="#839dc4"/><rect x="513.75" y="45.6" width="2.55" height="28.10" fill="#b24a4b"/><rect x="513.75" y="73.5" width="2.55" height="28.10" fill="#bac4d6"/><rect x="513.75" y="101.4" width="2.55" height="28.10" fill="#7b98c2"/><rect x="516.00" y="45.6" width="2.55" height="28.10" fill="#ae4244"/><rect x="516.00" y="73.5" width="2.55" height="28.10" fill="#bac4d6"/><rect x="516.00" y="101.4" width="2.55" height="28.10" fill="#7e9ac2"/><rect x="518.25" y="45.6" width="2.55" height="28.10" fill="#ac3e40"/><rect x="518.25" y="73.5" width="2.55" height="28.10" fill="#b8c3d5"/><rect x="518.25" y="101.4" width="2.55" height="28.10" fill="#8fa5c7"/><rect x="520.50" y="45.6" width="2.55" height="28.10" fill="#b24a4b"/><rect x="520.50" y="73.5" width="2.55" height="28.10" fill="#b0bdd2"/><rect x="520.50" y="101.4" width="2.55" height="28.10" fill="#839dc4"/><rect x="522.75" y="45.6" width="2.55" height="28.10" fill="#ab3c3f"/><rect x="522.75" y="73.5" width="2.55" height="28.10" fill="#b5c0d4"/><rect x="522.75" y="101.4" width="2.55" height="28.10" fill="#839dc4"/><rect x="525.00" y="45.6" width="2.59" height="28.10" fill="#b24a4b"/><rect x="525.00" y="73.5" width="2.59" height="28.10" fill="#a2b2cd"/><rect x="525.00" y="101.4" width="2.59" height="28.10" fill="#859ec4"/><rect x="527.29" y="45.6" width="2.59" height="28.10" fill="#b55151"/><rect x="527.29" y="73.5" width="2.59" height="28.10" fill="#adbbd1"/><rect x="527.29" y="101.4" width="2.59" height="28.10" fill="#8aa2c5"/><rect x="529.57" y="45.6" width="2.59" height="28.10" fill="#ac3f42"/><rect x="529.57" y="73.5" width="2.59" height="28.10" fill="#a2b2cd"/><rect x="529.57" y="101.4" width="2.59" height="28.10" fill="#8aa2c5"/><rect x="531.86" y="45.6" width="2.59" height="28.10" fill="#b1494a"/><rect x="531.86" y="73.5" width="2.59" height="28.10" fill="#a0b1cc"/><rect x="531.86" y="101.4" width="2.59" height="28.10" fill="#8ba3c6"/><rect x="534.14" y="45.6" width="2.59" height="28.10" fill="#ac3f42"/><rect x="534.14" y="73.5" width="2.59" height="28.10" fill="#afbcd1"/><rect x="534.14" y="101.4" width="2.59" height="28.10" fill="#95a9c8"/><rect x="536.43" y="45.6" width="2.59" height="28.10" fill="#af4647"/><rect x="536.43" y="73.5" width="2.59" height="28.10" fill="#afbcd1"/><rect x="536.43" y="101.4" width="2.59" height="28.10" fill="#97abc9"/><rect x="538.71" y="45.6" width="2.59" height="28.10" fill="#b04748"/><rect x="538.71" y="73.5" width="2.59" height="28.10" fill="#abb9d0"/><rect x="538.71" y="101.4" width="2.59" height="28.10" fill="#859ec4"/><rect x="541.00" y="45.6" width="2.59" height="28.10" fill="#af4446"/><rect x="541.00" y="73.5" width="2.59" height="28.10" fill="#a7b6ce"/><rect x="541.00" y="101.4" width="2.59" height="28.10" fill="#93a8c8"/><rect x="543.29" y="45.6" width="2.59" height="28.10" fill="#af4647"/><rect x="543.29" y="73.5" width="2.59" height="28.10" fill="#a2b2cd"/><rect x="543.29" y="101.4" width="2.59" height="28.10" fill="#859ec4"/><rect x="545.57" y="45.6" width="2.59" height="28.10" fill="#ad4143"/><rect x="545.57" y="73.5" width="2.59" height="28.10" fill="#9fb0cc"/><rect x="545.57" y="101.4" width="2.59" height="28.10" fill="#8da4c6"/><rect x="547.86" y="45.6" width="2.59" height="28.10" fill="#b24c4c"/><rect x="547.86" y="73.5" width="2.59" height="28.10" fill="#a3b4cd"/><rect x="547.86" y="101.4" width="2.59" height="28.10" fill="#93a8c8"/><rect x="550.14" y="45.6" width="2.59" height="28.10" fill="#ac3f42"/><rect x="550.14" y="73.5" width="2.59" height="28.10" fill="#a2b2cd"/><rect x="550.14" y="101.4" width="2.59" height="28.10" fill="#92a7c8"/><rect x="552.43" y="45.6" width="2.59" height="28.10" fill="#b34d4e"/><rect x="552.43" y="73.5" width="2.59" height="28.10" fill="#a8b7cf"/><rect x="552.43" y="101.4" width="2.59" height="28.10" fill="#8ba3c6"/><rect x="554.71" y="45.6" width="2.59" height="28.10" fill="#b44f4f"/><rect x="554.71" y="73.5" width="2.59" height="28.10" fill="#a0b1cc"/><rect x="554.71" y="101.4" width="2.59" height="28.10" fill="#88a1c5"/><rect x="557.00" y="45.6" width="2.59" height="28.10" fill="#ad4143"/><rect x="557.00" y="73.5" width="2.59" height="28.10" fill="#a7b6ce"/><rect x="557.00" y="101.4" width="2.59" height="28.10" fill="#88a1c5"/><rect x="559.29" y="45.6" width="2.59" height="28.10" fill="#ad4143"/><rect x="559.29" y="73.5" width="2.59" height="28.10" fill="#b2bed3"/><rect x="559.29" y="101.4" width="2.59" height="28.10" fill="#8da4c6"/><rect x="561.57" y="45.6" width="2.59" height="28.10" fill="#b55151"/><rect x="561.57" y="73.5" width="2.59" height="28.10" fill="#a0b1cc"/><rect x="561.57" y="101.4" width="2.59" height="28.10" fill="#87a0c4"/><rect x="563.86" y="45.6" width="2.59" height="28.10" fill="#b24c4c"/><rect x="563.86" y="73.5" width="2.59" height="28.10" fill="#9fb0cc"/><rect x="563.86" y="101.4" width="2.59" height="28.10" fill="#88a1c5"/><rect x="566.14" y="45.6" width="2.59" height="28.10" fill="#b34d4e"/><rect x="566.14" y="73.5" width="2.59" height="28.10" fill="#a8b7cf"/><rect x="566.14" y="101.4" width="2.59" height="28.10" fill="#97abc9"/><rect x="568.43" y="45.6" width="2.59" height="28.10" fill="#af4446"/><rect x="568.43" y="73.5" width="2.59" height="28.10" fill="#a5b5ce"/><rect x="568.43" y="101.4" width="2.59" height="28.10" fill="#8da4c6"/><rect x="570.71" y="45.6" width="2.59" height="28.10" fill="#b1494a"/><rect x="570.71" y="73.5" width="2.59" height="28.10" fill="#a5b5ce"/><rect x="570.71" y="101.4" width="2.59" height="28.10" fill="#8ba3c6"/><rect x="573.00" y="45.6" width="2.59" height="28.10" fill="#b55252"/><rect x="573.00" y="73.5" width="2.59" height="28.10" fill="#a2b2cd"/><rect x="573.00" y="101.4" width="2.59" height="28.10" fill="#98acc9"/><rect x="575.29" y="45.6" width="2.59" height="28.10" fill="#b55151"/><rect x="575.29" y="73.5" width="2.59" height="28.10" fill="#a7b6ce"/><rect x="575.29" y="101.4" width="2.59" height="28.10" fill="#90a6c7"/><rect x="577.57" y="45.6" width="2.59" height="28.10" fill="#ad4143"/><rect x="577.57" y="73.5" width="2.59" height="28.10" fill="#a2b2cd"/><rect x="577.57" y="101.4" width="2.59" height="28.10" fill="#8aa2c5"/><rect x="579.86" y="45.6" width="2.59" height="28.10" fill="#b34d4e"/><rect x="579.86" y="73.5" width="2.59" height="28.10" fill="#a5b5ce"/><rect x="579.86" y="101.4" width="2.59" height="28.10" fill="#8da4c6"/><rect x="582.14" y="45.6" width="2.59" height="28.10" fill="#ac3f42"/><rect x="582.14" y="73.5" width="2.59" height="28.10" fill="#afbcd1"/><rect x="582.14" y="101.4" width="2.59" height="28.10" fill="#97abc9"/><rect x="584.43" y="45.6" width="2.59" height="28.10" fill="#b55252"/><rect x="584.43" y="73.5" width="2.59" height="28.10" fill="#9dafcb"/><rect x="584.43" y="101.4" width="2.59" height="28.10" fill="#93a8c8"/><rect x="586.71" y="45.6" width="2.59" height="28.10" fill="#ad4143"/><rect x="586.71" y="73.5" width="2.59" height="28.10" fill="#a7b6ce"/><rect x="586.71" y="101.4" width="2.59" height="28.10" fill="#90a6c7"/><rect x="589.00" y="45.6" width="3.10" height="28.10" fill="#ecd3d2"/><rect x="589.00" y="73.5" width="3.10" height="28.10" fill="#a7b6ce"/><rect x="589.00" y="101.4" width="3.10" height="28.10" fill="#ecd3d2"/><rect x="591.80" y="45.6" width="2.54" height="28.10" fill="#d8a3a0"/><rect x="591.80" y="73.5" width="2.54" height="28.10" fill="#3671bc"/><rect x="591.80" y="101.4" width="2.54" height="28.10" fill="#d8a3a0"/><rect x="594.04" y="45.6" width="2.54" height="28.10" fill="#d8a3a0"/><rect x="594.04" y="73.5" width="2.54" height="28.10" fill="#3671bc"/><rect x="594.04" y="101.4" width="2.54" height="28.10" fill="#d8a3a0"/><rect x="596.28" y="45.6" width="2.54" height="28.10" fill="#d8a3a0"/><rect x="596.28" y="73.5" width="2.54" height="28.10" fill="#3671bc"/><rect x="596.28" y="101.4" width="2.54" height="28.10" fill="#d8a3a0"/><rect x="598.52" y="45.6" width="2.54" height="28.10" fill="#d8a3a0"/><rect x="598.52" y="73.5" width="2.54" height="28.10" fill="#3671bc"/><rect x="598.52" y="101.4" width="2.54" height="28.10" fill="#d8a3a0"/><rect x="600.76" y="45.6" width="2.54" height="28.10" fill="#d8a3a0"/><rect x="600.76" y="73.5" width="2.54" height="28.10" fill="#3671bc"/><rect x="600.76" y="101.4" width="2.54" height="28.10" fill="#d8a3a0"/></g>
<path d="M44.5,59.6V101.3M44.5,59.6H94.3M44.5,101.3H66.3M66.3,87.5V115.4M66.3,87.5H94.3M66.3,115.4H94.3M161,0.7H369.4M161,0.7V29.4M369.4,0.7V15.3M108.3,29.4H213.6M108.3,29.4V38.1M213.6,29.4V34.3M100.3,38.1H116.5M116.5,38.1V41.4M111.6,41.4H122.6M189.4,34.3H237.5M189.4,34.3V40.2M237.5,34.3V38.3M165.1,40.2H212.6M228.6,38.3H246.5M246.5,38.3V40.4M243.9,40.4H248.7M266,15.3H473.4M266,15.3V29.7M473.4,15.3V17M258.2,29.7H273.5M258.2,29.7V40.4M273.5,29.7V39.9M256.5,40.4H259.5M266.2,39.9H281M352.4,17H593.1M352.4,17V35.5M593.1,17V31.7M309.3,35.5H395.5M309.3,35.5V39.6M395.5,35.5V37M291.3,39.6H326.4M372.3,37H419.5M419.5,37V38.8M380.8,38.8H458.7M458.7,38.8V41.2M421.3,41.2H496M496,41.2V42.0M470,42.0H522M522,42.0V42.6M500,42.6H545M545,42.6V43.2M530,43.2H565M565,43.2V43.8M550,43.8H580M590.4,31.7H595.7M590.4,31.7V45.5M595.7,31.7V44.8M593,44.8H600M593,44.8V45.5M600,44.8V45.5M100.3,38.1V45.5M111.6,41.4V45.5M123.18,43.52H125.51M123.18,43.52V45.5M125.51,43.52V45.5M120.85,41.4H124.35M120.85,41.4V45.5M124.35,41.4V43.52M112.82,45.4H115.12M112.82,45.4V45.5M115.12,45.4V45.5M124.34,45.49H126.64M124.34,45.49V45.5M126.64,45.49V45.5M122.03,45.48H125.49M122.03,45.48V45.5M125.49,45.48V45.49M123.76,45.48H128.94M123.76,45.48V45.48M128.94,45.48V45.5M119.73,45.47H126.35M119.73,45.47V45.5M126.35,45.47V45.48M117.43,45.42H123.04M117.43,45.42V45.5M123.04,45.42V45.47M113.97,45.29H120.23M113.97,45.29V45.4M120.23,45.29V45.42M131.25,45.43H133.55M131.25,45.43V45.5M133.55,45.43V45.5M135.85,45.45H138.15M135.85,45.45V45.5M138.15,45.45V45.5M132.40,45.36H137.00M132.40,45.36V45.43M137.00,45.36V45.45M117.10,45.13H134.70M117.10,45.13V45.29M134.70,45.13V45.36M140.46,45.39H142.76M140.46,45.39V45.5M142.76,45.39V45.5M145.06,45.37H147.37M145.06,45.37V45.5M147.37,45.37V45.5M141.61,45.24H146.22M141.61,45.24V45.39M146.22,45.24V45.37M125.90,44.81H143.91M125.90,44.81V45.13M143.91,44.81V45.24M151.97,44.98H154.28M151.97,44.98V45.5M154.28,44.98V45.5M149.67,44.79H153.12M149.67,44.79V45.5M153.12,44.79V44.98M134.91,44.4H151.40M134.91,44.4V44.81M151.40,44.4V44.79M156.58,44.78H158.88M156.58,44.78V45.5M158.88,44.78V45.5M161.19,45.24H163.49M161.19,45.24V45.5M163.49,45.24V45.5M162.34,44.99H165.79M162.34,44.99V45.24M165.79,44.99V45.5M157.73,44.37H164.06M157.73,44.37V44.78M164.06,44.37V44.99M143.15,43.98H160.90M143.15,43.98V44.4M160.90,43.98V44.37M168.09,45.08H170.40M168.09,45.08V45.5M170.40,45.08V45.5M172.70,45.33H175.00M172.70,45.33V45.5M175.00,45.33V45.5M177.31,45.26H179.61M177.31,45.26V45.5M179.61,45.26V45.5M173.85,44.95H178.46M173.85,44.95V45.33M178.46,44.95V45.26M169.25,44.27H176.15M169.25,44.27V45.08M176.15,44.27V44.95M184.22,44.91H186.52M184.22,44.91V45.5M186.52,44.91V45.5M181.91,44.13H185.37M181.91,44.13V45.5M185.37,44.13V44.91M172.70,43.08H183.64M172.70,43.08V44.27M183.64,43.08V44.13M152.02,41.0H178.17M152.02,41.0V43.98M178.17,41.0V43.08M165.1,40.2V41.0M201.62,44.67H203.99M201.62,44.67V45.5M203.99,44.67V45.5M202.81,44.33H206.37M202.81,44.33V44.67M206.37,44.33V45.5M208.74,45.19H211.12M208.74,45.19V45.5M211.12,45.19V45.5M209.93,44.6H213.49M209.93,44.6V45.19M213.49,44.6V45.5M204.59,43.81H211.71M204.59,43.81V44.33M211.71,43.81V44.6M215.87,43.29H218.24M215.87,43.29V45.5M218.24,43.29V45.5M208.15,41.0H217.05M208.15,41.0V43.81M217.05,41.0V43.29M212.6,40.2V41.0M226.99,45.0H229.33M226.99,45.0V45.5M229.33,45.0V45.5M224.66,44.63H228.16M224.66,44.63V45.5M228.16,44.63V45.0M222.33,43.68H226.41M222.33,43.68V45.5M226.41,43.68V44.63M231.66,43.89H233.99M231.66,43.89V45.5M233.99,43.89V45.5M224.37,41.0H232.83M224.37,41.0V43.68M232.83,41.0V43.89M228.6,38.3V41.0M240.49,44.15H242.59M240.49,44.15V45.5M242.59,44.15V45.5M246.79,44.18H248.89M246.79,44.18V45.5M248.89,44.18V45.5M244.69,42.75H247.84M244.69,42.75V45.5M247.84,42.75V44.18M241.54,41.0H246.26M241.54,41.0V44.15M246.26,41.0V42.75M243.9,40.4V41.0M247.33,41.0H250.07M247.33,41.0V45.5M250.07,41.0V45.5M248.7,40.4V41.0M254.00,42.72H256.00M254.00,42.72V45.5M256.00,42.72V45.5M255.00,41.0H258.00M255.00,41.0V42.72M258.00,41.0V45.5M256.5,40.4V41.0M258.50,41.0H260.50M258.50,41.0V45.5M260.50,41.0V45.5M259.5,40.4V41.0M260.89,43.5H263.39M260.89,43.5V45.5M263.39,43.5V45.5M262.14,42.21H265.89M262.14,42.21V43.5M265.89,42.21V45.5M264.02,41.0H268.39M264.02,41.0V42.21M268.39,41.0V45.5M266.2,39.9V41.0M273.28,44.3H275.57M273.28,44.3V45.5M275.57,44.3V45.5M277.85,44.24H280.14M277.85,44.24V45.5M280.14,44.24V45.5M274.43,42.89H279.00M274.43,42.89V44.3M279.00,42.89V44.24M282.43,44.75H284.71M282.43,44.75V45.5M284.71,44.75V45.5M283.57,43.89H287.00M283.57,43.89V44.75M287.00,43.89V45.5M276.71,41.0H285.28M276.71,41.0V42.89M285.28,41.0V43.89M281,39.9V41.0M287.96,43.01H290.63M287.96,43.01V45.5M290.63,43.01V45.5M289.30,41.0H293.30M289.30,41.0V43.01M293.30,41.0V45.5M291.3,39.6V41.0M294.40,45.45H296.66M294.40,45.45V45.5M296.66,45.45V45.5M295.53,45.4H298.92M295.53,45.4V45.45M298.92,45.4V45.5M301.18,45.44H303.44M301.18,45.44V45.5M303.44,45.44V45.5M302.31,45.42H305.70M302.31,45.42V45.44M305.70,45.42V45.5M297.22,45.31H304.00M297.22,45.31V45.4M304.00,45.31V45.42M292.14,45.1H300.61M292.14,45.1V45.5M300.61,45.1V45.31M307.95,45.38H310.21M307.95,45.38V45.5M310.21,45.38V45.5M309.08,45.31H312.47M309.08,45.31V45.38M312.47,45.31V45.5M314.73,45.44H316.99M314.73,45.44V45.5M316.99,45.44V45.5M315.86,45.34H319.25M315.86,45.34V45.44M319.25,45.34V45.5M310.78,45.21H317.56M310.78,45.21V45.31M317.56,45.21V45.34M314.17,45.11H321.51M314.17,45.11V45.21M321.51,45.11V45.5M296.38,44.66H317.84M296.38,44.66V45.1M317.84,44.66V45.11M323.77,44.84H326.03M323.77,44.84V45.5M326.03,44.84V45.5M324.90,43.82H328.29M324.90,43.82V44.84M328.29,43.82V45.5M307.11,42.74H326.59M307.11,42.74V44.66M326.59,42.74V43.82M332.81,45.17H335.07M332.81,45.17V45.5M335.07,45.17V45.5M333.94,44.99H337.32M333.94,44.99V45.17M337.32,44.99V45.5M339.58,45.43H341.84M339.58,45.43V45.5M341.84,45.43V45.5M340.71,45.35H344.10M340.71,45.35V45.43M344.10,45.35V45.5M342.41,45.25H346.36M342.41,45.25V45.35M346.36,45.25V45.5M348.62,45.11H350.88M348.62,45.11V45.5M350.88,45.11V45.5M344.39,44.95H349.75M344.39,44.95V45.25M349.75,44.95V45.11M335.63,44.66H347.07M335.63,44.66V44.99M347.07,44.66V44.95M330.55,42.81H341.35M330.55,42.81V45.5M341.35,42.81V44.66M316.85,41.0H335.95M316.85,41.0V42.74M335.95,41.0V42.81M326.4,39.6V41.0M361.06,44.33H363.43M361.06,44.33V45.5M363.43,44.33V45.5M370.56,45.31H372.93M370.56,45.31V45.5M372.93,45.31V45.5M368.18,45.18H371.75M368.18,45.18V45.5M371.75,45.18V45.31M365.81,45.07H369.96M365.81,45.07V45.5M369.96,45.07V45.18M367.89,44.82H375.31M367.89,44.82V45.07M375.31,44.82V45.5M362.25,43.86H371.60M362.25,43.86V44.33M371.60,43.86V44.82M366.92,41.0H377.68M366.92,41.0V43.86M377.68,41.0V45.5M372.3,37V41.0M378.09,44.46H380.26M378.09,44.46V45.5M380.26,44.46V45.5M375.92,42.81H379.17M375.92,42.81V45.5M379.17,42.81V44.46M384.59,44.55H386.76M384.59,44.55V45.5M386.76,44.55V45.5M382.42,43.8H385.67M382.42,43.8V45.5M385.67,43.8V44.55M377.55,41.0H384.05M377.55,41.0V42.81M384.05,41.0V43.8M380.8,38.8V41.0M388.42,45.37H390.75M388.42,45.37V45.5M390.75,45.37V45.5M389.58,45.24H393.08M389.58,45.24V45.37M393.08,45.24V45.5M391.33,44.64H395.42M391.33,44.64V45.24M395.42,44.64V45.5M400.08,45.11H402.42M400.08,45.11V45.5M402.42,45.11V45.5M397.75,44.56H401.25M397.75,44.56V45.5M401.25,44.56V45.11M393.37,44.24H399.50M393.37,44.24V44.64M399.50,44.24V44.56M407.08,45.22H409.42M407.08,45.22V45.5M409.42,45.22V45.5M411.75,45.24H414.08M411.75,45.24V45.5M414.08,45.24V45.5M408.25,45.09H412.92M408.25,45.09V45.22M412.92,45.09V45.24M404.75,44.38H410.58M404.75,44.38V45.5M410.58,44.38V45.09M416.42,44.9H418.75M416.42,44.9V45.5M418.75,44.9V45.5M417.58,44.29H421.08M417.58,44.29V44.9M421.08,44.29V45.5M407.67,43.62H419.33M407.67,43.62V44.38M419.33,43.62V44.29M396.44,42.95H413.50M396.44,42.95V44.24M413.50,42.95V43.62M423.42,45.03H425.75M423.42,45.03V45.5M425.75,45.03V45.5M424.58,44.86H428.08M424.58,44.86V45.03M428.08,44.86V45.5M430.42,45.3H432.75M430.42,45.3V45.5M432.75,45.3V45.5M431.58,44.98H435.08M431.58,44.98V45.3M435.08,44.98V45.5M437.42,45.27H439.75M437.42,45.27V45.5M439.75,45.27V45.5M433.33,44.76H438.58M433.33,44.76V44.98M438.58,44.76V45.27M426.33,44.5H435.96M426.33,44.5V44.86M435.96,44.5V44.76M446.75,44.78H449.08M446.75,44.78V45.5M449.08,44.78V45.5M444.42,44.42H447.92M444.42,44.42V45.5M447.92,44.42V44.78M442.08,43.87H446.17M442.08,43.87V45.5M446.17,43.87V44.42M431.15,43.08H444.13M431.15,43.08V44.5M444.13,43.08V43.87M404.97,41.2H437.64M404.97,41.2V42.95M437.64,41.2V43.08M447.93,45.16H450.19M447.93,45.16V45.5M450.19,45.16V45.5M449.06,45.04H452.43M449.06,45.04V45.16M452.43,45.04V45.5M454.69,45.08H456.93M454.69,45.08V45.5M456.93,45.08V45.5M459.19,45.15H461.43M459.19,45.15V45.5M461.43,45.15V45.5M455.81,44.93H460.31M455.81,44.93V45.08M460.31,44.93V45.15M468.19,45.48H470.43M468.19,45.48V45.5M470.43,45.48V45.5M469.31,45.46H472.69M469.31,45.46V45.48M472.69,45.46V45.5M465.93,45.43H471.00M465.93,45.43V45.5M471.00,45.43V45.46M474.93,45.41H477.19M474.93,45.41V45.5M477.19,45.41V45.5M468.47,45.26H476.06M468.47,45.26V45.43M476.06,45.26V45.41M463.69,45.18H472.26M463.69,45.18V45.5M472.26,45.18V45.26M467.97,45.03H479.43M467.97,45.03V45.18M479.43,45.03V45.5M458.06,44.59H473.70M458.06,44.59V44.93M473.70,44.59V45.03M450.75,44.28H465.88M450.75,44.28V45.04M465.88,44.28V44.59M458.31,42.0H481.69M458.31,42.0V44.28M481.69,42.0V45.5M488.75,44.95H491.15M488.75,44.95V45.5M491.15,44.95V45.5M489.95,44.52H493.55M489.95,44.52V44.95M493.55,44.52V45.5M498.35,45.03H500.75M498.35,45.03V45.5M500.75,45.03V45.5M495.95,44.39H499.55M495.95,44.39V45.5M499.55,44.39V45.03M491.75,43.83H497.75M491.75,43.83V44.52M497.75,43.83V44.39M507.95,45.02H510.35M507.95,45.02V45.5M510.35,45.02V45.5M505.55,44.68H509.15M505.55,44.68V45.5M509.15,44.68V45.02M503.15,43.83H507.35M503.15,43.83V45.5M507.35,43.83V44.68M494.75,42.6H505.25M494.75,42.6V43.83M505.25,42.6V43.83M526.25,45.44H528.61M526.25,45.44V45.5M528.61,45.44V45.5M523.89,45.34H527.43M523.89,45.34V45.5M527.43,45.34V45.44M525.66,45.24H530.98M525.66,45.24V45.34M530.98,45.24V45.5M533.34,45.19H535.70M533.34,45.19V45.5M535.70,45.19V45.5M528.32,45.02H534.52M528.32,45.02V45.24M534.52,45.02V45.19M531.42,44.72H538.07M531.42,44.72V45.02M538.07,44.72V45.5M542.79,45.32H545.16M542.79,45.32V45.5M545.16,45.32V45.5M540.43,44.99H543.98M540.43,44.99V45.5M543.98,44.99V45.32M534.74,44.42H542.20M534.74,44.42V44.72M542.20,44.42V44.99M521.52,43.2H538.47M521.52,43.2V45.5M538.47,43.2V44.42M538.00,45.33H540.40M538.00,45.33V45.5M540.40,45.33V45.5M539.20,45.13H542.80M539.20,45.13V45.33M542.80,45.13V45.5M547.60,45.41H550.00M547.60,45.41V45.5M550.00,45.41V45.5M545.20,45.27H548.80M545.20,45.27V45.5M548.80,45.27V45.41M541.00,44.97H547.00M541.00,44.97V45.13M547.00,44.97V45.27M552.40,44.92H554.80M552.40,44.92V45.5M554.80,44.92V45.5M557.20,45.16H559.60M557.20,45.16V45.5M559.60,45.16V45.5M553.60,44.65H558.40M553.60,44.65V44.92M558.40,44.65V45.16M544.00,43.8H556.00M544.00,43.8V44.97M556.00,43.8V44.65M566.01,45.16H568.25M566.01,45.16V45.5M568.25,45.16V45.5M563.75,45.04H567.13M563.75,45.04V45.5M567.13,45.04V45.16M572.75,45.44H575.01M572.75,45.44V45.5M575.01,45.44V45.5M570.51,45.31H573.88M570.51,45.31V45.5M573.88,45.31V45.44M579.51,45.43H581.75M579.51,45.43V45.5M581.75,45.43V45.5M577.25,45.35H580.63M577.25,45.35V45.5M580.63,45.35V45.43M572.19,45.12H578.94M572.19,45.12V45.31M578.94,45.12V45.35M575.57,44.78H584.01M575.57,44.78V45.12M584.01,44.78V45.5M565.44,44.3H579.79M565.44,44.3V45.04M579.79,44.3V44.78M586.25,44.9H588.51M586.25,44.9V45.5M588.51,44.9V45.5M572.61,43.8H587.38M572.61,43.8V44.3M587.38,43.8V44.9" fill="none" stroke="#3a3a3a" stroke-width="0.8"/>
<path d="M603,59.6H607.8" stroke="#222" stroke-width="1.4"/>
<text x="612" y="63.4" font-size="11.1" font-style="italic" fill="#1a1a1a">pbrm-1(ot792)</text>
<path d="M603,87.5H607.8" stroke="#222" stroke-width="1.4"/>
<text x="612" y="91.3" font-size="11.1" font-style="italic" fill="#1a1a1a">pbrm-1(tm415)</text>
<path d="M603,115.4H607.8" stroke="#222" stroke-width="1.4"/>
<text x="612" y="119.2" font-size="11.1" font-style="italic" fill="#1a1a1a">N2</text>
<defs><linearGradient id="cb" x1="0" y1="1" x2="0" y2="0"><stop offset="0.00" stop-color="#2369bd"/><stop offset="0.05" stop-color="#4276bc"/><stop offset="0.10" stop-color="#5b84bd"/><stop offset="0.15" stop-color="#7192c0"/><stop offset="0.20" stop-color="#87a0c4"/><stop offset="0.25" stop-color="#9baecb"/><stop offset="0.30" stop-color="#afbcd1"/><stop offset="0.35" stop-color="#c3cbda"/><stop offset="0.40" stop-color="#d9dce5"/><stop offset="0.45" stop-color="#eeedf0"/><stop offset="0.50" stop-color="#faf5f4"/><stop offset="0.55" stop-color="#f6e8e7"/><stop offset="0.60" stop-color="#ecd3d2"/><stop offset="0.65" stop-color="#e3bfbd"/><stop offset="0.70" stop-color="#dbaba8"/><stop offset="0.75" stop-color="#d39794"/><stop offset="0.80" stop-color="#cc8582"/><stop offset="0.85" stop-color="#c3726f"/><stop offset="0.90" stop-color="#bb5e5d"/><stop offset="0.95" stop-color="#b24a4b"/><stop offset="1.00" stop-color="#a9373b"/></linearGradient></defs>
<rect x="20" y="70" width="4" height="61" fill="url(#cb)"/>
<path d="M28.2,78.7H32.6" stroke="#222" stroke-width="1.5"/>
<text x="35.6" y="81.9" font-size="9" fill="#222">1</text>
<path d="M28.2,100.9H32.6" stroke="#222" stroke-width="1.5"/>
<text x="35.6" y="104.10000000000001" font-size="9" fill="#222">0</text>
<path d="M28.2,123.2H32.6" stroke="#222" stroke-width="1.5"/>
<text x="35.6" y="126.4" font-size="9" fill="#222">−1</text>
<text transform="translate(10.3,98) rotate(-90)" text-anchor="middle" font-size="11" fill="#222">z-score</text>
<text x="0.1" y="15.4" font-size="17" font-weight="bold" fill="#000">a</text>
<text x="2.9" y="162.6" font-size="17" font-weight="bold" fill="#000">b</text>
<text x="352.7" y="162.7" font-size="17" font-weight="bold" fill="#000">c</text>
<text x="2.0" y="262.7" font-size="17" font-weight="bold" fill="#000">d</text>
<text x="352.7" y="264.8" font-size="17" font-weight="bold" fill="#000">e</text>
<text x="1.0" y="399.8" font-size="17" font-weight="bold" fill="#000">f</text>
<text x="352.3" y="401.5" font-size="17" font-weight="bold" fill="#000">g</text>
<text x="61.8" y="178.9" text-anchor="end" font-size="8.6" font-style="italic" fill="#262626">N2</text>
<text x="61.8" y="192.7" text-anchor="end" font-size="8.6" font-style="italic" fill="#262626">pbrm-1 (ot792)</text>
<text x="61.8" y="206.4" text-anchor="end" font-size="8.6" font-style="italic" fill="#262626">pbrm-1 (tm415)</text>
<path d="M68.2,211.3H285.6" stroke="#555" stroke-width="1.3"/>
<text x="86.20" y="222.1" text-anchor="middle" font-size="6.9" fill="#333">−25.0</text>
<text x="110.40" y="222.1" text-anchor="middle" font-size="6.9" fill="#333">−22.5</text>
<text x="134.60" y="222.1" text-anchor="middle" font-size="6.9" fill="#333">−20.0</text>
<text x="158.80" y="222.1" text-anchor="middle" font-size="6.9" fill="#333">−17.5</text>
<text x="183.00" y="222.1" text-anchor="middle" font-size="6.9" fill="#333">−15.0</text>
<text x="207.20" y="222.1" text-anchor="middle" font-size="6.9" fill="#333">−12.5</text>
<text x="231.40" y="222.1" text-anchor="middle" font-size="6.9" fill="#333">−10.0</text>
<text x="255.60" y="222.1" text-anchor="middle" font-size="6.9" fill="#333">−7.5</text>
<text x="279.80" y="222.1" text-anchor="middle" font-size="6.9" fill="#333">−5.0</text>
<text x="80.3" y="239.5" font-size="9.9" fill="#222">Median midbody speed while backward (μm/s)</text>
<path d="M78.5,176.5H101.5M78.5,174.5V178.5M117.5,176.5H138.5M138.5,174.5V178.5" stroke="#5c5c5c" stroke-width="1.05" fill="none"/>
<rect x="101.5" y="172.5" width="16.0" height="7.0" fill="#3089c5" stroke="#474747" stroke-width="1"/>
<path d="M115.5,172.5V179.5" stroke="#474747" stroke-width="1"/>
<path d="M256.5,190.5H259.5M256.5,188.5V192.5M265.5,190.5H273.5M273.5,188.5V192.5" stroke="#5c5c5c" stroke-width="1.05" fill="none"/>
<rect x="259.5" y="186.5" width="6.0" height="7.0" fill="#3089c5" stroke="#474747" stroke-width="1"/>
<path d="M264.5,186.5V193.5" stroke="#474747" stroke-width="1"/>
<path d="M181.5,204.5H189.5M181.5,202.5V206.5M218.5,204.5H232.5M232.5,202.5V206.5" stroke="#5c5c5c" stroke-width="1.05" fill="none"/>
<rect x="189.5" y="200.5" width="29.0" height="7.0" fill="#3089c5" stroke="#474747" stroke-width="1"/>
<path d="M210.5,200.5V207.5" stroke="#474747" stroke-width="1"/>
<text x="288" y="191.9" font-size="4.9" fill="#333">p=3.35e-02</text>
<text x="288" y="205.8" font-size="4.9" fill="#333">p=5.04e-02</text>
<text x="425.4" y="178.9" text-anchor="end" font-size="8.6" font-style="italic" fill="#262626">N2</text>
<text x="425.4" y="192.8" text-anchor="end" font-size="8.6" font-style="italic" fill="#262626">pbrm-1 (ot792)</text>
<text x="425.4" y="206.8" text-anchor="end" font-size="8.6" font-style="italic" fill="#262626">pbrm-1 (tm415)</text>
<path d="M433.5,211.4H676.9" stroke="#555" stroke-width="1.3"/>
<text x="478.40" y="222.7" text-anchor="middle" font-size="6.9" fill="#333">0.0060</text>
<text x="525.75" y="222.7" text-anchor="middle" font-size="6.9" fill="#333">0.0065</text>
<text x="573.10" y="222.7" text-anchor="middle" font-size="6.9" fill="#333">0.0070</text>
<text x="620.45" y="222.7" text-anchor="middle" font-size="6.9" fill="#333">0.0075</text>
<text x="667.80" y="222.7" text-anchor="middle" font-size="6.9" fill="#333">0.0080</text>
<text x="465.0" y="237.7" font-size="9.9" fill="#222">90th percentile of hip curvature (1/μm)</text>
<path d="M442.5,177.5H470.5M442.5,175.5V179.5M500.5,177.5H511.5M511.5,175.5V179.5" stroke="#5c5c5c" stroke-width="1.05" fill="none"/>
<rect x="470.5" y="173.5" width="30.0" height="7.0" fill="#3089c5" stroke="#474747" stroke-width="1"/>
<path d="M490.5,173.5V180.5" stroke="#474747" stroke-width="1"/>
<rect x="590.5" y="187.5" width="8.0" height="7.0" fill="#3089c5" stroke="#474747" stroke-width="1"/>
<path d="M597.5,187.5V194.5" stroke="#474747" stroke-width="1"/>
<circle cx="571" cy="191.0" r="1.9" fill="#fff" stroke="#444" stroke-width="0.8"/>
<circle cx="625.8" cy="191.0" r="1.9" fill="#fff" stroke="#444" stroke-width="0.8"/>
<path d="M512.5,205.5H528.5M512.5,203.5V207.5M574.5,205.5H623.5M623.5,203.5V207.5" stroke="#5c5c5c" stroke-width="1.05" fill="none"/>
<rect x="528.5" y="201.5" width="46.0" height="7.0" fill="#3089c5" stroke="#474747" stroke-width="1"/>
<path d="M558.5,201.5V208.5" stroke="#474747" stroke-width="1"/>
<text x="639" y="192.7" font-size="4.9" fill="#333">p=4.80e-02</text>
<text x="639" y="206.3" font-size="4.9" fill="#333">p=5.76e-01</text>
<text x="59.9" y="294.1" text-anchor="end" font-size="8.6" font-style="italic" fill="#262626">N2</text>
<text x="59.9" y="307.8" text-anchor="end" font-size="8.6" font-style="italic" fill="#262626">pbrm-1 (ot792)</text>
<text x="59.9" y="321.4" text-anchor="end" font-size="8.6" font-style="italic" fill="#262626">pbrm-1 (tm415)</text>
<path d="M68.2,322.8H312.3" stroke="#555" stroke-width="1.3"/>
<text x="109.30" y="334.1" text-anchor="middle" font-size="6.9" fill="#333">0.0014</text>
<text x="156.30" y="334.1" text-anchor="middle" font-size="6.9" fill="#333">0.0016</text>
<text x="203.30" y="334.1" text-anchor="middle" font-size="6.9" fill="#333">0.0018</text>
<text x="250.30" y="334.1" text-anchor="middle" font-size="6.9" fill="#333">0.0020</text>
<text x="297.30" y="334.1" text-anchor="middle" font-size="6.9" fill="#333">0.0022</text>
<text x="25.6" y="352.8" font-size="9.9" fill="#222">Inter-quartile range of the standard deviation of hip curvature (1/μm)</text>
<rect x="96.5" y="284.5" width="12.0" height="7.0" fill="#3089c5" stroke="#474747" stroke-width="1"/>
<path d="M106.5,284.5V291.5" stroke="#474747" stroke-width="1"/>
<circle cx="78.2" cy="288.0" r="1.9" fill="#fff" stroke="#444" stroke-width="0.8"/>
<circle cx="137" cy="288.0" r="1.9" fill="#fff" stroke="#444" stroke-width="0.8"/>
<path d="M265.5,302.5H273.5M273.5,300.5V304.5" stroke="#5c5c5c" stroke-width="1.05" fill="none"/>
<rect x="238.5" y="298.5" width="27.0" height="7.0" fill="#3089c5" stroke="#474747" stroke-width="1"/>
<path d="M254.5,298.5V305.5" stroke="#474747" stroke-width="1"/>
<circle cx="192.8" cy="302.0" r="1.9" fill="#fff" stroke="#444" stroke-width="0.8"/>
<path d="M137.5,316.5H141.5M137.5,314.5V318.5M169.5,316.5H177.5M177.5,314.5V318.5" stroke="#5c5c5c" stroke-width="1.05" fill="none"/>
<rect x="141.5" y="312.5" width="28.0" height="7.0" fill="#3089c5" stroke="#474747" stroke-width="1"/>
<path d="M154.5,312.5V319.5" stroke="#474747" stroke-width="1"/>
<text x="286.8" y="303.5" font-size="4.9" fill="#333">p=4.63e-02</text>
<text x="286.8" y="317.2" font-size="4.9" fill="#333">p=2.67e-01</text>
<text x="425.6" y="293.7" text-anchor="end" font-size="8.6" font-style="italic" fill="#262626">N2</text>
<text x="425.6" y="307.5" text-anchor="end" font-size="8.6" font-style="italic" fill="#262626">pbrm-1 (ot792)</text>
<text x="425.6" y="321.2" text-anchor="end" font-size="8.6" font-style="italic" fill="#262626">pbrm-1 (tm415)</text>
<path d="M434.3,322.4H676.9" stroke="#555" stroke-width="1.3"/>
<text x="468.10" y="333.2" text-anchor="middle" font-size="6.9" fill="#333">0.010</text>
<text x="520.30" y="333.2" text-anchor="middle" font-size="6.9" fill="#333">0.012</text>
<text x="572.50" y="333.2" text-anchor="middle" font-size="6.9" fill="#333">0.014</text>
<text x="624.70" y="333.2" text-anchor="middle" font-size="6.9" fill="#333">0.016</text>
<text x="394.4" y="352.0" font-size="9.9" fill="#222">Inter-quartile range of head path curvature while backward (1/μm)</text>
<path d="M444.5,287.5H451.5M444.5,285.5V289.5M466.5,287.5H480.5M480.5,285.5V289.5" stroke="#5c5c5c" stroke-width="1.05" fill="none"/>
<rect x="451.5" y="283.5" width="15.0" height="7.0" fill="#3089c5" stroke="#474747" stroke-width="1"/>
<path d="M452.5,283.5V290.5" stroke="#474747" stroke-width="1"/>
<path d="M620.5,301.5H624.5M620.5,299.5V303.5M636.5,301.5H640.5M640.5,299.5V303.5" stroke="#5c5c5c" stroke-width="1.05" fill="none"/>
<rect x="624.5" y="297.5" width="12.0" height="7.0" fill="#3089c5" stroke="#474747" stroke-width="1"/>
<rect x="509.5" y="311.5" width="9.0" height="7.0" fill="#3089c5" stroke="#474747" stroke-width="1"/>
<path d="M515.5,311.5V318.5" stroke="#474747" stroke-width="1"/>
<circle cx="466.6" cy="315.0" r="1.9" fill="#fff" stroke="#444" stroke-width="0.8"/>
<circle cx="537.5" cy="315.0" r="1.9" fill="#fff" stroke="#444" stroke-width="0.8"/>
<text x="653.9" y="302.6" font-size="4.9" fill="#333">p=4.32e-03</text>
<text x="653.9" y="316.9" font-size="4.9" fill="#333">p=4.43e-01</text>
<text x="61.8" y="407.5" text-anchor="end" font-size="8.6" font-style="italic" fill="#262626">N2</text>
<text x="61.8" y="421.3" text-anchor="end" font-size="8.6" font-style="italic" fill="#262626">pbrm-1 (ot792)</text>
<text x="61.8" y="435.0" text-anchor="end" font-size="8.6" font-style="italic" fill="#262626">pbrm-1 (tm415)</text>
<path d="M69,439.3H287" stroke="#555" stroke-width="1.3"/>
<text x="89.00" y="450.5" text-anchor="middle" font-size="6.9" fill="#333">−0.08</text>
<text x="115.90" y="450.5" text-anchor="middle" font-size="6.9" fill="#333">−0.07</text>
<text x="142.80" y="450.5" text-anchor="middle" font-size="6.9" fill="#333">−0.06</text>
<text x="169.70" y="450.5" text-anchor="middle" font-size="6.9" fill="#333">−0.05</text>
<text x="196.60" y="450.5" text-anchor="middle" font-size="6.9" fill="#333">−0.04</text>
<text x="223.50" y="450.5" text-anchor="middle" font-size="6.9" fill="#333">−0.03</text>
<text x="250.40" y="450.5" text-anchor="middle" font-size="6.9" fill="#333">−0.02</text>
<text x="277.30" y="450.5" text-anchor="middle" font-size="6.9" fill="#333">−0.01</text>
<text x="20.3" y="468.6" font-size="9.9" fill="#222">Median d/dt of standard deviation of neck curvature (length-normalized)</text>
<path d="M78.5,405.5H88.5M78.5,403.5V407.5M132.5,405.5H146.5M146.5,403.5V407.5" stroke="#5c5c5c" stroke-width="1.05" fill="none"/>
<rect x="88.5" y="401.5" width="44.0" height="7.0" fill="#3089c5" stroke="#474747" stroke-width="1"/>
<path d="M112.5,401.5V408.5" stroke="#474747" stroke-width="1"/>
<path d="M207.5,419.5H220.5M207.5,417.5V421.5M260.5,419.5H274.5M274.5,417.5V421.5" stroke="#5c5c5c" stroke-width="1.05" fill="none"/>
<rect x="220.5" y="415.5" width="40.0" height="7.0" fill="#3089c5" stroke="#474747" stroke-width="1"/>
<path d="M257.5,415.5V422.5" stroke="#474747" stroke-width="1"/>
<path d="M143.5,433.5H151.5M143.5,431.5V435.5" stroke="#5c5c5c" stroke-width="1.05" fill="none"/>
<rect x="151.5" y="429.5" width="28.0" height="7.0" fill="#3089c5" stroke="#474747" stroke-width="1"/>
<path d="M171.5,429.5V436.5" stroke="#474747" stroke-width="1"/>
<circle cx="224.9" cy="433.0" r="1.9" fill="#fff" stroke="#444" stroke-width="0.8"/>
<text x="287.8" y="420.5" font-size="4.9" fill="#333">p=4.63e-02</text>
<text x="287.8" y="434.4" font-size="4.9" fill="#333">p=5.38e-01</text>
<text x="424.6" y="410.3" text-anchor="end" font-size="8.6" font-style="italic" fill="#262626">N2</text>
<text x="424.6" y="424.0" text-anchor="end" font-size="8.6" font-style="italic" fill="#262626">pbrm-1 (ot792)</text>
<text x="424.6" y="437.8" text-anchor="end" font-size="8.6" font-style="italic" fill="#262626">pbrm-1 (tm415)</text>
<path d="M431,440.5H674" stroke="#555" stroke-width="1.3"/>
<text x="466.00" y="451.8" text-anchor="middle" font-size="6.9" fill="#333">0.0016</text>
<text x="509.90" y="451.8" text-anchor="middle" font-size="6.9" fill="#333">0.0018</text>
<text x="553.80" y="451.8" text-anchor="middle" font-size="6.9" fill="#333">0.0020</text>
<text x="597.70" y="451.8" text-anchor="middle" font-size="6.9" fill="#333">0.0022</text>
<text x="641.60" y="451.8" text-anchor="middle" font-size="6.9" fill="#333">0.0024</text>
<text x="395.2" y="468.6" font-size="9.9" fill="#222">90th percentile d/dt standard deviation of tail curvature (1/μm*s)</text>
<path d="M439.5,406.5H459.5M439.5,404.5V408.5M478.5,406.5H486.5M486.5,404.5V408.5" stroke="#5c5c5c" stroke-width="1.05" fill="none"/>
<rect x="459.5" y="402.5" width="19.0" height="7.0" fill="#3089c5" stroke="#474747" stroke-width="1"/>
<path d="M474.5,402.5V409.5" stroke="#474747" stroke-width="1"/>
<path d="M618.5,420.5H633.5M633.5,418.5V422.5" stroke="#5c5c5c" stroke-width="1.05" fill="none"/>
<rect x="602.5" y="416.5" width="16.0" height="7.0" fill="#3089c5" stroke="#474747" stroke-width="1"/>
<path d="M614.5,416.5V423.5" stroke="#474747" stroke-width="1"/>
<circle cx="571.9" cy="420.0" r="1.9" fill="#fff" stroke="#444" stroke-width="0.8"/>
<path d="M485.5,433.5H488.5M485.5,431.5V435.5M566.5,433.5H581.5M581.5,431.5V435.5" stroke="#5c5c5c" stroke-width="1.05" fill="none"/>
<rect x="488.5" y="429.5" width="78.0" height="7.0" fill="#3089c5" stroke="#474747" stroke-width="1"/>
<path d="M509.5,429.5V436.5" stroke="#474747" stroke-width="1"/>
<text x="647" y="421.6" font-size="4.9" fill="#333">p=2.50e-02</text>
<text x="647" y="435.1" font-size="4.9" fill="#333">p=1.00e+00</text>
</svg></body></html>
